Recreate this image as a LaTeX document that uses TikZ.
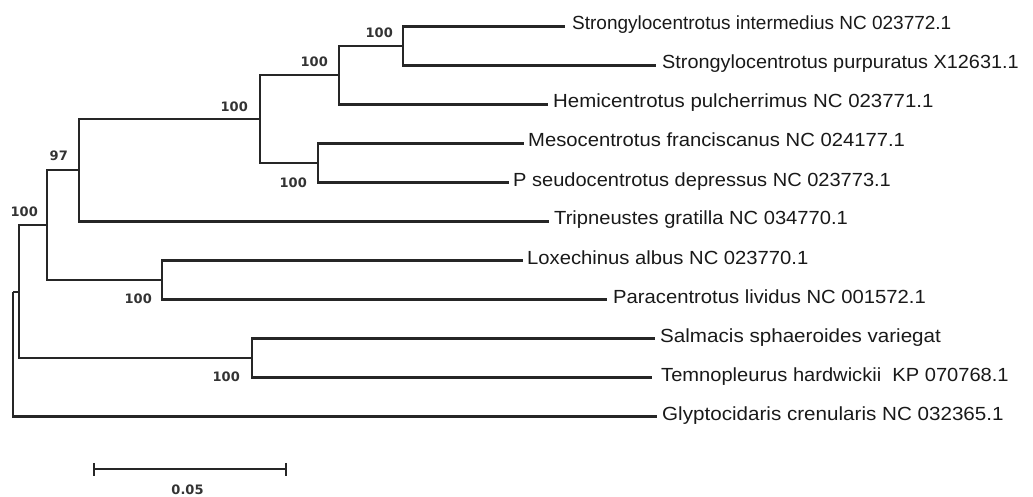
\documentclass[tikz,border=0pt]{standalone}
\usepackage{fontspec}
\setmainfont{Liberation Sans}
\newfontfamily\bsfont{DejaVu Sans}
\newcommand{\lf}[2]{\scalebox{#1}[1]{#2}}
\begin{document}
\begin{tikzpicture}[x=1pt,y=-1pt,
  br/.style={line width=2.1pt,draw=black!85,line cap=butt,line join=miter},
  leaftext/.style={anchor=base west,inner sep=0pt,font=\fontsize{19}{19}\selectfont,text=black!90},
  boot/.style={anchor=east,inner sep=0pt,font=\bsfont\bfseries\fontsize{13}{13}\selectfont,text=black!80}]
\useasboundingbox (0,0) rectangle (1033,497);
% leaf ends
\coordinate (l1) at (565,26.5);
\coordinate (l2) at (656,65.5);
\coordinate (l3) at (548,104.5);
\coordinate (l4) at (524,143.5);
\coordinate (l5) at (509,182.5);
\coordinate (l6) at (549,221.5);
\coordinate (l7) at (523,260.5);
\coordinate (l8) at (607,299.5);
\coordinate (l9) at (655,338.5);
\coordinate (l10) at (652,377.5);
\coordinate (l11) at (657,416.5);
% internal nodes
\coordinate (nA) at (403,46);
\coordinate (nB) at (339,75.25);
\coordinate (nD) at (318,163);
\coordinate (nC) at (260,119.1);
\coordinate (nE) at (79,170.3);
\coordinate (nG) at (162,280);
\coordinate (nF) at (47,225.2);
\coordinate (nI) at (252,358);
\coordinate (nH) at (19,291.6);
\coordinate (nR) at (13,291.6);
% branches
\draw[br] (nA) |- (l1); \draw[br] (nA) |- (l2);
\draw[br] (nB) |- (nA); \draw[br] (nB) |- (l3);
\draw[br] (nD) |- (l4); \draw[br] (nD) |- (l5);
\draw[br] (nC) |- (nB); \draw[br] (nC) |- (nD);
\draw[br] (nE) |- (nC); \draw[br] (nE) |- (l6);
\draw[br] (nG) |- (l7); \draw[br] (nG) |- (l8);
\draw[br] (nF) |- (nE); \draw[br] (nF) |- (nG);
\draw[br] (nI) |- (l9); \draw[br] (nI) |- (l10);
\draw[br] (nH) |- (nF); \draw[br] (nH) |- (nI);
\draw[br] (nR) |- (nH); \draw[br] (nR) |- (l11);
% leaf labels
\node[leaftext] (t1) at ([xshift=7pt,yshift=-3.5pt]l1) {\lf{1.0}{Strongylocentrotus intermedius NC 023772.1}};
\node[leaftext] (t2) at ([xshift=6pt,yshift=-3.5pt]l2) {\lf{1.045}{Strongylocentrotus purpuratus X12631.1}};
\node[leaftext] (t3) at ([xshift=5pt,yshift=-3.5pt]l3) {\lf{1.075}{Hemicentrotus pulcherrimus NC 023771.1}};
\node[leaftext] (t4) at ([xshift=4pt,yshift=-3.5pt]l4) {\lf{1.065}{Mesocentrotus franciscanus NC 024177.1}};
\node[leaftext] (t5) at ([xshift=4pt,yshift=-3.5pt]l5) {\lf{1.055}{P seudocentrotus depressus NC 023773.1}};
\node[leaftext] (t6) at ([xshift=5pt,yshift=-3.5pt]l6) {\lf{1.06}{Tripneustes gratilla NC 034770.1}};
\node[leaftext] (t7) at ([xshift=4pt,yshift=-3.5pt]l7) {\lf{1.065}{Loxechinus albus NC 023770.1}};
\node[leaftext] (t8) at ([xshift=6pt,yshift=-3.5pt]l8) {\lf{1.065}{Paracentrotus lividus NC 001572.1}};
\node[leaftext] (t9) at ([xshift=5pt,yshift=-3.5pt]l9) {\lf{1.085}{Salmacis sphaeroides variegat}};
\node[leaftext] (t10) at ([xshift=9pt,yshift=-3.5pt]l10) {\lf{1.058}{Temnopleurus hardwickii\ \ KP 070768.1}};
\node[leaftext] (t11) at ([xshift=5pt,yshift=-3.5pt]l11) {\lf{1.085}{Glyptocidaris crenularis NC 032365.1}};
% bootstrap values
\node[boot] (bA) at ([xshift=-10pt,yshift=13.5pt]nA) {100};
\node[boot] (bB) at ([xshift=-11pt,yshift=13.5pt]nB) {100};
\node[boot] (bC) at ([xshift=-12pt,yshift=12.5pt]nC) {100};
\node[boot] (bE) at ([xshift=-11pt,yshift=14.5pt]nE) {97};
\node[boot] (bF) at ([xshift=-9pt,yshift=13pt]nF) {100};
\node[boot] (bD) at ([xshift=-11pt]nD |- l5) {100};
\node[boot] (bG) at ([xshift=-10pt,yshift=1pt]nG |- l8) {100};
\node[boot] (bI) at ([xshift=-12pt,yshift=1pt]nI |- l10) {100};
% scale bar
\coordinate (s1) at (94,469.3);
\coordinate (s2) at (286,469.3);
\draw[br] (s1) -- (s2);
\draw[br] ([yshift=6.5pt]s1) -- ([yshift=-6.5pt]s1);
\draw[br] ([yshift=6.5pt]s2) -- ([yshift=-6.5pt]s2);
\node[boot,anchor=center] (sl) at (187.5,489.3) {0.05};
\end{tikzpicture}
\end{document}
